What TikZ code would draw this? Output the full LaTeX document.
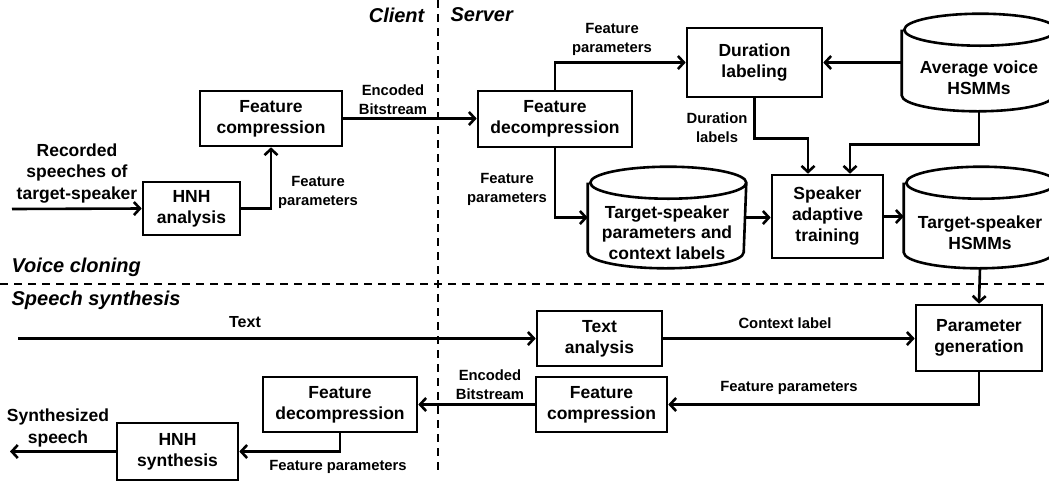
\documentclass[tikz,border=0pt]{standalone}
\usepackage{fontspec}
\setmainfont{Liberation Sans}
\usepackage{tikz}
\usetikzlibrary{positioning,arrows.meta,shapes.geometric}
% database drum round a named node: #1 node, #2 half width
\newcommand{\dbdraw}[2]{%
  \draw ([yshift=-16pt]#1.north west) -- ([yshift=16pt]#1.south west)
    arc[start angle=180, end angle=360, x radius=#2pt, y radius=16pt]
    -- ([yshift=-16pt]#1.north east)
    arc[start angle=0, end angle=360, x radius=#2pt, y radius=16pt];}

\begin{document}
\begin{tikzpicture}[x=1pt, y=-1pt, line width=2.6pt,
  box/.style={draw, rectangle, align=center, inner sep=2pt, font=\fontsize{17.5}{21}\selectfont\bfseries},
  db/.style={rectangle, inner sep=0pt},
  dbtext/.style={align=center, yshift=-15pt, font=\fontsize{17.5}{20.5}\selectfont\bfseries},
  lbl/.style={align=center, font=\fontsize{14.8}{19}\selectfont\bfseries},
  big/.style={align=center, font=\fontsize{17.5}{21.5}\selectfont\bfseries},
  part/.style={font=\fontsize{20}{24}\selectfont\bfseries\itshape},
  arr/.style={-{Straight Barb[length=6pt,width=13pt]}},
  sep/.style={line width=1.6pt, dash pattern=on 8pt off 6pt}]
\useasboundingbox (0,0) rectangle (1049,483);

% client / server and cloning / synthesis borders
\coordinate (vtop) at (438,0);
\coordinate (vbot) at (438,470);
\coordinate (hl) at (0,284);
\coordinate (hr) at (1049,284);
\draw[sep] (vtop) -- (vbot);
\draw[sep] (hl) -- (hr);
\node[part, anchor=east] (client) at (429,15) {Client};
\node[part, anchor=west] (server) at (446,15) {Server};
\node[part, anchor=west] (clon) at (7,267) {Voice cloning};
\node[part, anchor=west] (synt) at (7,300) {Speech synthesis};

% voice cloning
\node[box, minimum width=97pt, minimum height=53pt] (hnha) at (191.5,208.5) {HNH\\analysis};
\node[box, minimum width=142pt, minimum height=55pt] (fcc) at (271,118.5) {Feature\\compression};
\node[box, minimum width=154pt, minimum height=56pt] (fds) at (555,119) {Feature\\decompression};
\node[box, minimum width=135pt, minimum height=69pt] (dur) at (754.5,62.5) {Duration\\labeling};
\node[db, minimum width=152pt, minimum height=95pt,
  label={[dbtext]center:{Average voice\\HSMMs}}] (avg) at (979,62.5) {};
\node[db, minimum width=156pt, minimum height=99pt,
  label={[dbtext]center:{Target-speaker\\parameters and\\context labels}}] (tsp) at (667,217.5) {};
\node[box, minimum width=111pt, minimum height=83pt] (sat) at (827.5,216.5) {Speaker\\adaptive\\training};
\node[db, minimum width=150pt, minimum height=99pt,
  label={[dbtext]center:{Target-speaker\\HSMMs}}] (tsh) at (980,217.5) {};
\dbdraw{avg}{76}
\dbdraw{tsp}{78}
\dbdraw{tsh}{75}

\coordinate (recin) at (12,209);
\node[big] (rec) at (77,173.5) {Recorded\\speeches of\\target-speaker};
\draw[arr] (recin) -- (hnha.west);
\draw[arr] (hnha.east) -| (fcc.south);
\node[lbl] (fp1) at (318,192.5) {Feature\\parameters};
\draw[arr] (fcc.east) -- (fcc.east -| fds.west);
\node[lbl] (eb1) at (393,99.5) {Encoded\\Bitstream};
\draw[arr] (fds.north) |- (dur.west);
\node[lbl] (fp2) at (612,39.5) {Feature\\parameters};
\draw[arr] (fds.south) |- (tsp.west);
\node[lbl] (fp3) at (507,189) {Feature\\parameters};
\draw[arr] (avg.west) -- (dur.east);
\draw[arr] (dur.south) -- ++(0,40) -| ([xshift=-19.5pt]sat.north);
\node[lbl] (dl) at (717,127.5) {Duration\\labels};
\draw[arr] (avg.south) -- ++(0,33) -| ([xshift=22.5pt]sat.north);
\draw[arr] (tsp.east) -- (tsp.east -| sat.west);
\draw[arr] (sat.east) -- (sat.east -| tsh.west);

% speech synthesis
\node[box, minimum width=125pt, minimum height=55pt] (ta) at (599.5,338.5) {Text\\analysis};
\node[box, minimum width=126pt, minimum height=66pt] (pg) at (979,338) {Parameter\\generation};
\node[box, minimum width=131pt, minimum height=55pt] (fcs) at (601.5,404.5) {Feature\\compression};
\node[box, minimum width=154pt, minimum height=55pt] (fdc) at (340,404.5) {Feature\\decompression};
\node[box, minimum width=121pt, minimum height=57pt] (hnhs) at (177.5,451.5) {HNH\\synthesis};

\coordinate (txtin) at (18,338.5);
\coordinate (spout) at (10,451.5);
\draw[arr] (txtin) -- (ta.west);
\node[lbl, font=\fontsize{16}{19}\selectfont\bfseries] (txt) at (245,322) {Text};
\draw[arr] (tsh.south) -- (pg.north);
\draw[arr] (ta.east) -- (ta.east -| pg.west);
\node[lbl] (cl) at (785,323) {Context label};
\draw[arr] (pg.south) |- (fcs.east);
\node[lbl] (fp4) at (789,388) {Feature parameters};
\draw[arr] (fcs.west) -- (fdc.east);
\node[lbl] (eb2) at (490,384.5) {Encoded\\Bitstream};
\draw[arr] (fdc.south) |- (hnhs.east);
\node[lbl] (fp5) at (338,467) {Feature parameters};
\draw[arr] (hnhs.west) -- (spout);
\node[big] (syn) at (58,428) {Synthesized\\speech};
\end{tikzpicture}
\end{document}
